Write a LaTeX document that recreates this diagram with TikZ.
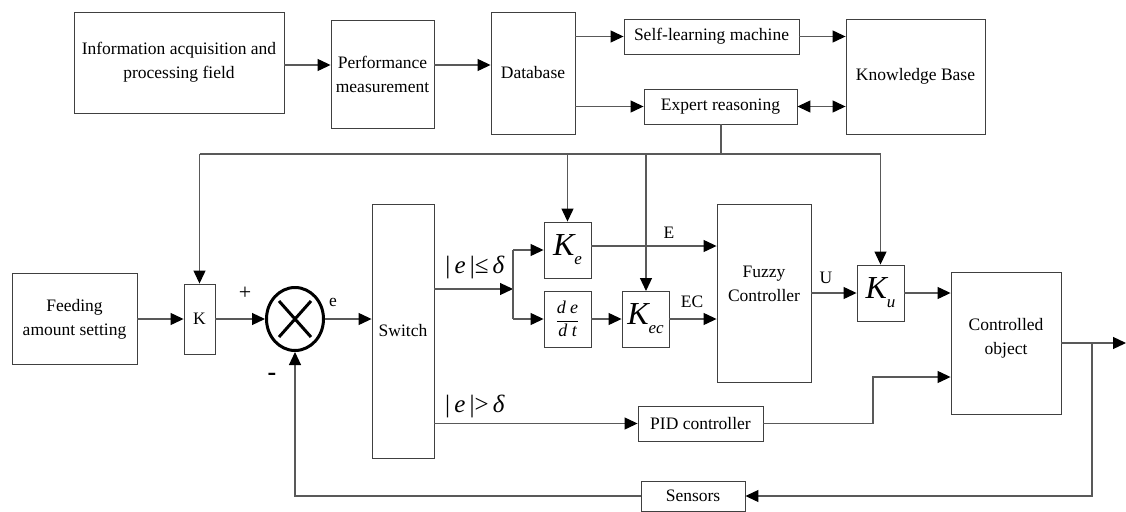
\documentclass[tikz,border=0pt]{standalone}
\usepackage{fontspec}
\setmainfont{Liberation Serif}
\usetikzlibrary{arrows.meta,shapes.geometric}
% gain symbol: large italic K with a lowered subscript
\newcommand\gainsym[1]{{\fontsize{32}{32}\selectfont\itshape K\raisebox{-9pt}{\fontsize{17}{17}\selectfont #1}}}
\begin{document}
\begin{tikzpicture}[x=1pt,y=-1pt,
  blk/.style={draw=black!75, line width=0.9pt, rectangle, inner sep=0pt, align=center,
              font=\fontsize{17.5}{24}\selectfont},
  wire/.style={draw=black!65, line width=1.2pt},
  tip/.tip={Triangle[length=13pt,width=12pt,color=black]},
  arr/.style={wire, -tip},
  darr/.style={wire, tip-tip},
  lbl/.style={font=\fontsize{17.5}{17.5}\selectfont, inner sep=0pt},
  btxt/.style={font=\fontsize{17.5}{24}\selectfont, inner sep=0pt, align=center},
  mlbl/.style={font=\fontsize{25}{25}\selectfont, inner sep=0pt}]
\useasboundingbox (0,0) rectangle (1126,511);

% knowledge layer
\node[blk, minimum width=210pt, minimum height=101pt] (info) at (179,62.5) {Information acquisition and\\processing field};
\node[blk, minimum width=103pt, minimum height=108pt] (perf) at (382.5,74) {Performance\\measurement};
\node[blk, minimum width=84pt, minimum height=122pt] (db) at (533,73) {Database};
\node[blk, minimum width=175pt, minimum height=35pt] (self) at (711.5,36.5) {Self-learning machine};
\node[blk, minimum width=153pt, minimum height=35pt] (exp) at (720.5,106.5) {Expert reasoning};
\node[blk, minimum width=139pt, minimum height=115pt] (kb) at (915.5,76.5) {Knowledge Base};

% control loop
\node[blk, minimum width=125pt, minimum height=91pt] (feed) at (74.5,319) {Feeding\\amount setting};
\node[blk, minimum width=31pt, minimum height=70pt] (k) at (199.5,319) {K};
\node[draw=black, line width=3pt, ellipse, minimum width=57pt, minimum height=63pt, inner sep=0pt] (sum) at (295,319) {};
\draw[line width=3pt] (279,301) -- (311,337) (311,301) -- (279,337);
\node[blk, minimum width=62pt, minimum height=254pt] (sw) at (403,331) {Switch};
\node[blk, minimum width=47pt, minimum height=56pt] (ke) at (567.5,250) {\gainsym{e}};
\node[blk, minimum width=47pt, minimum height=56pt] (dedt) at (567.5,319) {\fontsize{18}{18}\selectfont$\displaystyle\frac{\textit{d e}}{\textit{d t}}$};
\node[blk, minimum width=47pt, minimum height=56pt] (kec) at (645.5,319) {\gainsym{ec}};
\node[blk, minimum width=94pt, minimum height=178pt] (fuzzy) at (764,293) {};
\node[btxt] (fuzzytxt) at (764,284) {Fuzzy\\Controller};
\node[blk, minimum width=47pt, minimum height=56pt] (ku) at (880.5,293) {\gainsym{u}};
\node[blk, minimum width=110pt, minimum height=142pt] (plant) at (1006,343) {};
\node[btxt] (planttxt) at (1006,338) {Controlled\\object};
\node[blk, minimum width=125pt, minimum height=35pt] (pid) at (700.5,423.5) {PID controller};
\node[blk, minimum width=104pt, minimum height=30pt] (sens) at (693,496) {Sensors};

% knowledge layer connectors
\draw[arr] (info.east |- 0,65) -- (perf.west |- 0,65);
\draw[arr] (perf.east |- 0,65) -- (db.west |- 0,65);
\draw[arr] (db.east |- self) -- (self.west);
\draw[arr] (db.east |- exp) -- (exp.west);
\draw[arr] (self.east) -- (kb.west |- self);
\draw[darr] (exp.east) -- (kb.west |- exp);

% tuning bus from expert reasoning
\coordinate (bus) at (721,154);
\draw[wire] (exp.south -| bus) -- (bus);
\draw[wire] (k.north |- bus) -- (ku.north |- bus);
\draw[arr] (k.north |- bus) -- (k.north);
\draw[arr] (ke.north |- bus) -- (ke.north);
\draw[arr] (646,154) -- (646,291);
\draw[arr] (ku.north |- bus) -- (ku.north);

% main path
\draw[arr] (feed.east) -- (k.west);
\draw[arr] (k.east) -- (sum.west);
\draw[arr] (sum.east) -- (sw.west |- sum);
\node[lbl] at (245,293) {\fontsize{22}{22}\selectfont +};
\node[lbl, font=\fontsize{26}{26}\selectfont\bfseries] at (272,377) {-};
\node[lbl] at (333,302) {e};

\coordinate (jn) at (513,289);
\draw[arr] (sw.east |- jn) -- (jn);
\draw[wire] (jn |- ke) -- (jn |- dedt);
\draw[arr] (jn |- ke) -- (ke.west);
\draw[arr] (jn |- dedt) -- (dedt.west);
\node[mlbl] at (475,267) {|\,\textit{e}\,|≤\,\textit{δ}};
\draw[arr] (dedt.east) -- (kec.west);
\draw[arr] (ke.east |- 0,246) -- (fuzzy.west |- 0,246);
\node[lbl] at (669,233) {E};
\draw[arr] (kec.east) -- (fuzzy.west |- kec);
\node[lbl] at (692,302) {EC};
\draw[arr] (fuzzy.east |- ku) -- (ku.west);
\node[lbl] at (826,278) {U};
\draw[arr] (ku.east) -- (plant.west |- ku);

% PID branch
\draw[arr] (sw.east |- pid) -- (pid.west);
\node[mlbl] at (475,406) {|\,\textit{e}\,|>\,\textit{δ}};
\draw[arr] (pid.east) -- (873,423.5) -- (873,377) -- (plant.west |- 0,377);

% output and feedback
\coordinate (out) at (1126,343);
\coordinate (tap) at (1092,343);
\draw[arr] (plant.east) -- (out);
\draw[arr] (tap) -- (tap |- sens) -- (sens.east);
\draw[arr] (sens.west) -- (sum.south |- sens) -- (sum.south);
\end{tikzpicture}
\end{document}
